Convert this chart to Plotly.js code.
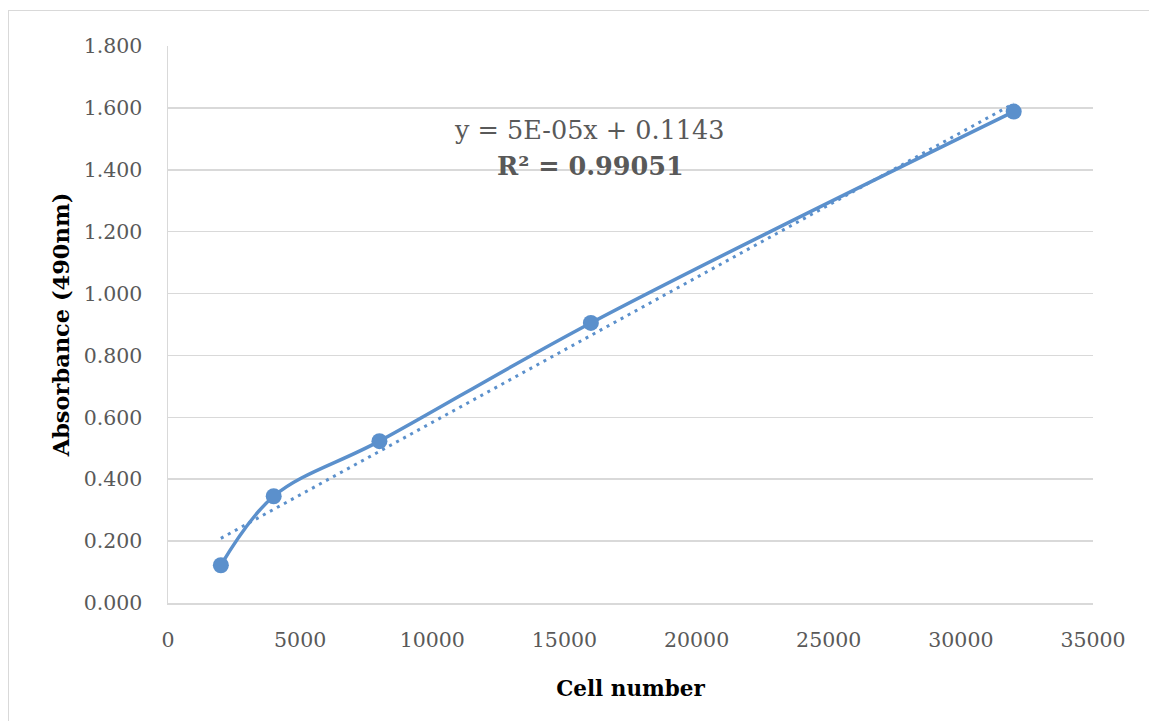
<!DOCTYPE html>
<html>
<head>
<meta charset="utf-8">
<script src="https://cdn.plot.ly/plotly-3.0.1.min.js"></script>
<style>
html,body{margin:0;padding:0;background:#fff;overflow:hidden;}
#chart{width:1149px;height:721px;}
#frame{position:absolute;left:8px;top:10px;width:1200px;height:730px;border:1.5px solid #d9d9d9;pointer-events:none;}
</style>
</head>
<body>
<div id="chart"></div>
<div id="frame"></div>
<script>
// Data
const cellNumber = [2000, 4000, 8000, 16000, 32000];
const absorbance = [0.122, 0.345, 0.523, 0.905, 1.588];
// Linear trendline endpoints (as drawn)
const trendX = [2000, 32000];
const trendY = [0.209, 1.614];
const equationText = 'y = 5E-05x + 0.1143';
const r2Text = 'R² = 0.99051';
const xTitle = 'Cell number';
const yTitle = 'Absorbance (490nm)';

const blue = '#5B90CC';
const txt = '#595959';
const font = 'DejaVu Serif, Liberation Serif, serif';

const traces = [
  {
    x: cellNumber, y: absorbance, type: 'scatter', mode: 'lines+markers',
    line: {color: blue, width: 3.5, shape: 'spline', smoothing: 1},
    marker: {color: blue, size: 16},
    hoverinfo: 'skip', showlegend: false
  },
  {
    x: trendX, y: trendY, type: 'scatter', mode: 'lines',
    line: {color: blue, width: 3, dash: '3px,5px'},
    hoverinfo: 'skip', showlegend: false
  }
];

const layout = {
  width: 1149, height: 721,
  margin: {l: 168, r: 56, t: 46, b: 118},
  paper_bgcolor: '#fff', plot_bgcolor: '#fff',
  font: {family: font, color: txt, size: 20},
  showlegend: false,
  xaxis: {
    range: [0, 35000], dtick: 5000, tick0: 0, tickformat: 'd',
    showgrid: false, zeroline: false, showline: true, linecolor: '#d9d9d9', linewidth: 1.5,
    ticks: '', ticklabelstandoff: 18,
    tickfont: {family: font, size: 20.5, color: txt},
    title: {text: '<b>' + xTitle + '</b>', font: {family: font, size: 21.5, color: '#000'}, standoff: 30}
  },
  yaxis: {
    range: [0, 1.8], dtick: 0.2, tick0: 0, tickformat: '.3f',
    showgrid: true, gridcolor: '#d9d9d9', gridwidth: 1.5,
    zeroline: false, showline: true, linecolor: '#d9d9d9', linewidth: 1.5,
    ticks: '', ticklabelstandoff: 20,
    tickfont: {family: font, size: 20.5, color: txt},
    title: {text: '<b>' + yTitle + '</b>', font: {family: font, size: 22.5, color: '#000'}, standoff: 8}
  },
  annotations: [
    {xref: 'paper', yref: 'paper', x: (589 - 168) / 925, y: (603 - 130) / 557,
     text: equationText, showarrow: false, xanchor: 'center', yanchor: 'middle',
     font: {family: font, size: 25.5, color: txt}},
    {xref: 'paper', yref: 'paper', x: (590 - 168) / 925, y: (603 - 166) / 557,
     text: '<b>' + r2Text + '</b>', showarrow: false, xanchor: 'center', yanchor: 'middle',
     font: {family: font, size: 25.5, color: txt}}
  ]
};

Plotly.newPlot('chart', traces, layout, {staticPlot: true, displayModeBar: false});
</script>
</body>
</html>
